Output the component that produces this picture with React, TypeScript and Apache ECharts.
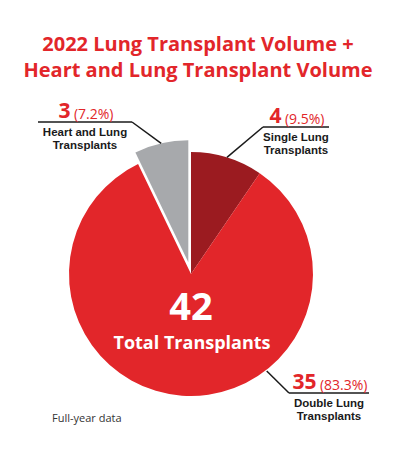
import React, { useEffect, useRef } from "react";
import * as echarts from "echarts";

// ---- data ----
const titleLines = ["2022 Lung Transplant Volume +", "Heart and Lung Transplant Volume"];
const categories = ["Single Lung Transplants", "Double Lung Transplants", "Heart and Lung Transplants"];
const values = [4, 35, 3];
const percentLabels = ["9.5%", "83.3%", "7.2%"];
const nameLines = [
  ["Single Lung", "Transplants"],
  ["Double Lung", "Transplants"],
  ["Heart and Lung", "Transplants"],
];
const colors = ["#9b1b20", "#e2262a", "#a7a9ac"];
const explodedIndex = 2;
const totalLabel = "Total Transplants";
const footnote = "Full-year data";

// ---- layout ----
const W = 396;
const H = 476;
const CX = 191;
const CY = 274;
const R = 122;
const OFFSET = 12;
const RED = "#e2262a";
const FONT = "'Open Sans', Roboto, sans-serif";
const SUBFONT = "'Liberation Sans', Arial, sans-serif";

// annotation layout: horizontal rule and the end of the rule where the leader meets it
const annot = [
  { lineY: 127, x1: 263, x2: 329, elbow: "left", anchorAngle: null as number | null, anchorR: R },
  { lineY: 393, x1: 289, x2: 369, elbow: "left", anchorAngle: -52, anchorR: R + 1 },
  { lineY: 122, x1: 38, x2: 132, elbow: "right", anchorAngle: null as number | null, anchorR: R },
];

export default function App() {
  const ref = useRef<HTMLDivElement>(null);
  useEffect(() => {
    document.body.style.margin = "0";
    const chart = echarts.init(ref.current!, null, { renderer: "svg" });
    const total = values.reduce((a, b) => a + b, 0);

    let start = 90;
    const mids: number[] = [];
    values.forEach((v) => {
      const span = (v / total) * 360;
      mids.push(start - span / 2);
      start -= span;
    });

    const graphics: any[] = [];
    annot.forEach((a, i) => {
      const ang = a.anchorAngle != null ? a.anchorAngle : mids[i];
      const rad = (ang * Math.PI) / 180;
      let cx = CX;
      let cy = CY;
      if (i === explodedIndex) {
        const mr = (mids[i] * Math.PI) / 180;
        cx += OFFSET * Math.cos(mr);
        cy -= OFFSET * Math.sin(mr);
      }
      const ax = cx + a.anchorR * Math.cos(rad);
      const ay = cy - a.anchorR * Math.sin(rad);
      const ex = a.elbow === "left" ? a.x1 : a.x2;
      graphics.push({
        type: "polyline",
        silent: true,
        z: 10,
        shape: { points: [[ax, ay], [ex, a.lineY]] },
        style: { stroke: "#1a1a1a", lineWidth: 1.5, fill: null },
      });
      graphics.push({
        type: "line",
        silent: true,
        z: 10,
        shape: { x1: a.x1, y1: a.lineY, x2: a.x2, y2: a.lineY },
        style: { stroke: "#1a1a1a", lineWidth: 1.5 },
      });
      const mid = (a.x1 + a.x2) / 2;
      graphics.push({
        type: "text",
        silent: true,
        z: 10,
        x: mid + 1,
        y: a.lineY - 2,
        style: {
          text: `{n|${values[i]}} {p|(${percentLabels[i]})}`,
          textAlign: "center",
          textVerticalAlign: "bottom",
          rich: {
            n: { fontSize: 21, fontWeight: "bold", fill: RED, fontFamily: FONT, verticalAlign: "bottom", lineHeight: 21 },
            p: { fontSize: 14, fill: RED, fontFamily: FONT, verticalAlign: "bottom", lineHeight: 19 },
          },
        },
      });
      graphics.push({
        type: "text",
        silent: true,
        z: 10,
        x: mid,
        y: a.lineY + 3,
        style: {
          text: nameLines[i].join("\n"),
          textAlign: "center",
          textVerticalAlign: "top",
          fontSize: 11.5,
          fontWeight: "bold",
          lineHeight: 13.5,
          fill: "#1a1a1a",
          fontFamily: SUBFONT,
        },
      });
    });

    graphics.push({
      type: "text",
      silent: true,
      z: 10,
      x: CX,
      y: 305,
      style: {
        text: String(total),
        textAlign: "center",
        textVerticalAlign: "middle",
        fontSize: 38,
        fontWeight: "bold",
        fill: "#ffffff",
        fontFamily: FONT,
      },
    });
    graphics.push({
      type: "text",
      silent: true,
      z: 10,
      x: CX + 1,
      y: 342,
      style: {
        text: totalLabel,
        textAlign: "center",
        textVerticalAlign: "middle",
        fontSize: 18,
        fontWeight: "bold",
        fill: "#ffffff",
        fontFamily: FONT,
      },
    });
    graphics.push({
      type: "text",
      silent: true,
      z: 10,
      x: 52,
      y: 417,
      style: {
        text: footnote,
        textAlign: "left",
        textVerticalAlign: "middle",
        fontSize: 11,
        fill: "#333333",
        fontFamily: FONT,
      },
    });

    chart.setOption({
      animation: false,
      title: {
        text: titleLines.join("\n"),
        left: "center",
        top: 25,
        textStyle: { color: RED, fontSize: 20, fontWeight: "bold", lineHeight: 26, fontFamily: FONT },
      },
      series: [
        {
          type: "pie",
          center: [CX, CY],
          radius: R,
          startAngle: 90,
          clockwise: true,
          selectedMode: "single",
          selectedOffset: OFFSET,
          label: { show: false },
          labelLine: { show: false },
          emphasis: { disabled: true },
          silent: true,
          data: values.map((v, i) => ({
            name: categories[i],
            value: v,
            selected: i === explodedIndex,
            itemStyle: { color: colors[i], borderWidth: 0 },
            select: { itemStyle: { color: colors[i], borderWidth: 0 } },
          })),
        },
      ],
      graphic: graphics,
    });
    return () => chart.dispose();
  }, []);
  return <div ref={ref} style={{ width: W, height: H, background: "#fff" }} />;
}
